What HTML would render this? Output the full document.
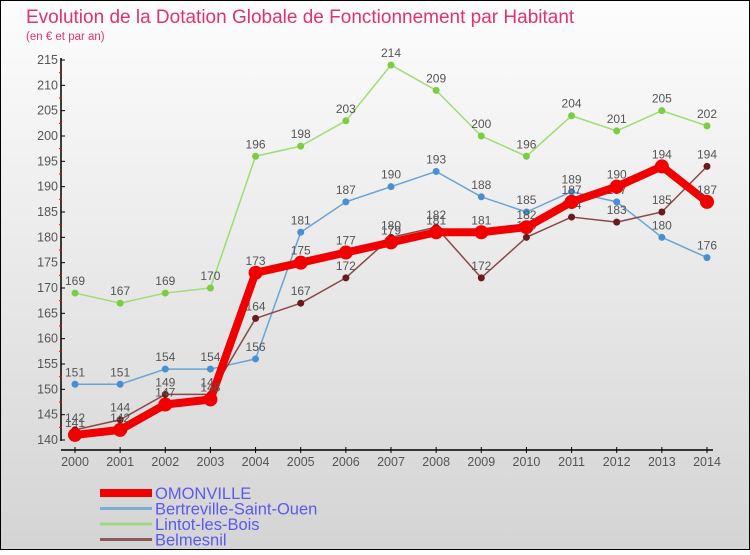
<!DOCTYPE html>
<html><head><meta charset="utf-8"><style>
body{margin:0}
#c{width:750px;height:550px;position:relative;font-family:"Liberation Sans","DejaVu Sans",sans-serif;}
</style></head><body>
<div id="c">
<svg width="750" height="550" xmlns="http://www.w3.org/2000/svg">
<defs><linearGradient id="bg" x1="0" y1="0" x2="0" y2="1"><stop offset="0" stop-color="#fdfdfd"/><stop offset="1" stop-color="#d4d4d4"/></linearGradient></defs>
<rect x="0.5" y="0.5" width="749" height="549" fill="url(#bg)" stroke="#000"/>
<text x="26" y="23" font-size="19" fill="#e0336a">Evolution de la Dotation Globale de Fonctionnement par Habitant</text>
<text x="26" y="40" font-size="11.5" fill="#e0336a">(en € et par an)</text>
<g id="axes"></g><g id="series"></g><g id="legend"></g>
</svg>
</div>
<script>
const years=[2000,2001,2002,2003,2004,2005,2006,2007,2008,2009,2010,2011,2012,2013,2014];
const omonville=[141,142,147,148,173,175,177,179,181,181,182,187,190,194,187];
const bertreville=[151,151,154,154,156,181,187,190,193,188,185,189,187,180,176];
const lintot=[169,167,169,170,196,198,203,214,209,200,196,204,201,205,202];
const belmesnil=[142,144,149,149,164,167,172,180,182,172,180,184,183,185,194];
const yTicks=[140,145,150,155,160,165,170,175,180,185,190,195,200,205,210,215];
const NS="http://www.w3.org/2000/svg";
const x=i=>75+i*(632/14);
const y=v=>440-(v-140)*(380/75);
function mk(tag,attrs,parent,txt){const e=document.createElementNS(NS,tag);for(const k in attrs)e.setAttribute(k,attrs[k]);if(txt!==undefined)e.textContent=txt;parent.appendChild(e);return e;}
const ax=document.getElementById('axes');
let a=mk('line',{x1:61,y1:58,x2:61,y2:441,stroke:'#000','stroke-width':1.5},ax);

a=mk('line',{x1:61,y1:450,x2:713,y2:450,stroke:'#000','stroke-width':1.5},ax);

yTicks.forEach((t,i)=>{mk('line',{x1:61,y1:y(t),x2:65,y2:y(t),stroke:'#000'},ax);
 if(i<yTicks.length-1)mk('line',{x1:59,y1:y(t+2.5),x2:62,y2:y(t+2.5),stroke:'#f00'},ax);
 const l=mk('text',{x:58,y:y(t)+4,'font-size':12.5,fill:'#555','text-anchor':'end'},ax,t);
 });
years.forEach((yr,i)=>{mk('line',{x1:x(i),y1:447,x2:x(i),y2:453,stroke:'#000'},ax);
 const l=mk('text',{x:x(i),y:466,'font-size':12.5,fill:'#555','text-anchor':'middle'},ax,yr);
 });
const sg=document.getElementById('series');
const series=[
 {n:'Lintot-les-Bois',d:lintot,c:'#9edc74',p:'#7ccc44',w:1.5,r:3.5},
 {n:'Bertreville-Saint-Ouen',d:bertreville,c:'#6aa4d4',p:'#4a90d0',w:1.5,r:3.5},
 {n:'Belmesnil',d:belmesnil,c:'#8a4848',p:'#6a1a1a',w:1.5,r:3.5},
 {n:'OMONVILLE',d:omonville,c:'#f00000',p:'#f00000',w:8,r:7}];
series.forEach(s=>{const g=mk('g',{},sg);
 
 const pl=mk('polyline',{points:s.d.map((v,i)=>x(i)+','+y(v)).join(' '),fill:'none',stroke:s.c,'stroke-width':s.w,'stroke-linejoin':'round'},g);
 
 s.d.forEach((v,i)=>{const c=mk('circle',{cx:x(i),cy:y(v),r:s.r,fill:s.p},g);
  
  const t=mk('text',{x:x(i),y:y(v)-8,'font-size':12,fill:'#555','text-anchor':'middle'},g,v);
  });});
const lg=document.getElementById('legend');
[['OMONVILLE','#f00000',8],['Bertreville-Saint-Ouen','#7aaed4',3],['Lintot-les-Bois','#a0d880',3],['Belmesnil','#8a5a5a',3]].forEach((e,i)=>{
 const yy=493+i*15.5;
 const g=mk('g',{},lg);
 mk('line',{x1:100,y1:yy,x2:152,y2:yy,stroke:e[1],'stroke-width':e[2]},g);
 mk('text',{x:155,y:yy+6,'font-size':16.5,fill:'#5a5aee'},g,e[0]);});
</script>
</body></html>
